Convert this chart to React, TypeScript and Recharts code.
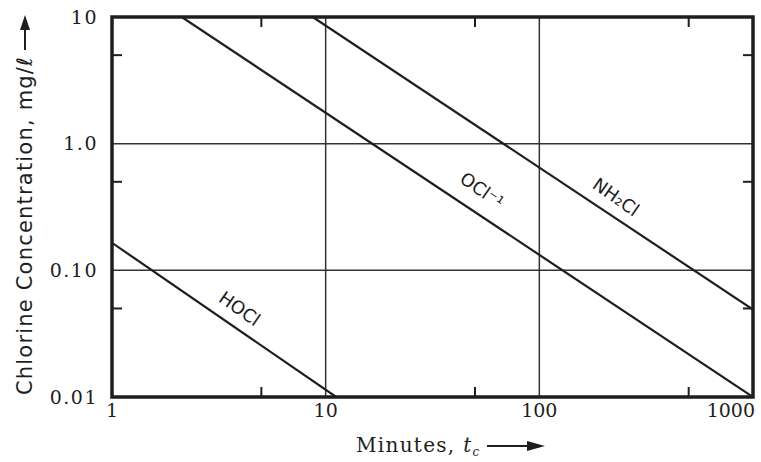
import {
  LineChart,
  Line,
  XAxis,
  YAxis,
  CartesianGrid,
  ReferenceArea,
  ReferenceDot,
} from "recharts";

// decade ticks and their printed labels
const xTicks = [1, 10, 100, 1000];
const yTicks = [0.01, 0.1, 1, 10];
const yTickLabels = ["0.01", "0.10", "1.0", "10"];

// short inside ticks at the half-decade marks
const xMinorTicks = [5, 50, 500];
const yMinorTicks = [0.05, 0.5, 5];

// contact time (min) vs chlorine concentration (mg/l)
const hoclData = [
  { t: 1, c: 0.165 },
  { t: 11.2, c: 0.01 },
];
const oclData = [
  { t: 2.12, c: 10 },
  { t: 1000, c: 0.01 },
];
const nh2clData = [
  { t: 8.7, c: 10 },
  { t: 1000, c: 0.049 },
];

const curveLabels = [
  { t: 3.96, c: 0.05, text: "HOCl" },
  { t: 54, c: 0.43, text: "OCl\u207B\u00B9" },
  { t: 229, c: 0.38, text: "NH\u2082Cl" },
];

const W = 761;
const H = 462;
const MARGIN = { top: 17, right: 8, bottom: 0, left: 0 };
const X_TICK_GAP = 7;
const Y_TICK_GAP = 14;
const MINOR_LEN = 10;

const INK = "#1e1e1e";
const SERIF = "'DejaVu Serif', serif";
const SANS = "'DejaVu Sans', 'Liberation Sans', sans-serif";

// decade labels below the plot; half-decade marks drawn as inward ticks on bottom and top edges
const XTick = (props: any) => {
  const { x, y, payload } = props;
  if (xMinorTicks.includes(payload.value)) {
    const bottom = y - X_TICK_GAP;
    const top = MARGIN.top;
    return (
      <g stroke={INK} strokeWidth={2}>
        <line x1={x} x2={x} y1={bottom} y2={bottom - MINOR_LEN} />
        <line x1={x} x2={x} y1={top} y2={top + MINOR_LEN} />
      </g>
    );
  }
  const anchor = payload.value === 1000 ? "end" : "middle";
  const dx = payload.value === 1000 ? 2 : 0;
  return (
    <text x={x + dx} y={y} dy="0.71em" textAnchor={anchor} fontFamily={SERIF} fontSize={19} fill={INK}>
      {payload.value}
    </text>
  );
};

const YTick = (props: any) => {
  const { x, y, payload } = props;
  if (yMinorTicks.includes(payload.value)) {
    const left = x + Y_TICK_GAP;
    const right = W - MARGIN.right;
    return (
      <g stroke={INK} strokeWidth={2}>
        <line x1={left} x2={left + MINOR_LEN} y1={y} y2={y} />
        <line x1={right} x2={right - MINOR_LEN} y1={y} y2={y} />
      </g>
    );
  }
  const i = yTicks.indexOf(payload.value);
  return (
    <text x={x} y={y} dy="0.35em" textAnchor="end" fontFamily={SERIF} fontSize={19} letterSpacing={1.5} fill={INK}>
      {yTickLabels[i]}
    </text>
  );
};

// rotated y title, text ends just below a drawn arrow pointing up
const YTitle = () => {
  const cx = 25;
  const end = 56;
  return (
    <g>
      <text
        x={cx}
        y={end}
        transform={`rotate(-90 ${cx} ${end})`}
        textAnchor="end"
        dominantBaseline="central"
        fontFamily={SANS}
        fontSize={21}
        letterSpacing={1.2}
        fill={INK}
      >
        Chlorine Concentration, mg/ℓ
      </text>
      <line x1={cx} y1={50} x2={cx} y2={28} stroke={INK} strokeWidth={2} />
      <polygon points={`${cx - 5},${30} ${cx + 5},${30} ${cx},${15}`} fill={INK} />
    </g>
  );
};

const XTitle = () => {
  const base = 452;
  return (
    <g>
      <text x={356} y={base} fontFamily={SERIF} fontSize={20} letterSpacing={1.3} fill={INK}>
        Minutes, <tspan fontStyle="italic">t</tspan>
        <tspan fontSize={12} dy={4} fontStyle="italic">c</tspan>
      </text>
      <line x1={487} y1={446} x2={530} y2={446} stroke={INK} strokeWidth={2} />
      <polygon points={`${527},${441} ${527},${451} ${545},${446}`} fill={INK} />
    </g>
  );
};

const CurveLabel = (props: any) => {
  const { viewBox, text } = props;
  const cx = viewBox.x + (viewBox.width || 0) / 2;
  const cy = viewBox.y + (viewBox.height || 0) / 2;
  return (
    <text
      x={cx}
      y={cy}
      transform={`rotate(35 ${cx} ${cy})`}
      textAnchor="middle"
      dominantBaseline="central"
      fontFamily={SANS}
      fontSize={18}
      fill={INK}
    >
      {text}
    </text>
  );
};

export default function App() {
  return (
    <div style={{ position: "absolute", left: 0, top: 0, background: "#fff" }}>
      <LineChart width={W} height={H} margin={MARGIN}>
        <CartesianGrid stroke="#333" strokeWidth={1.5} verticalValues={xTicks} horizontalValues={yTicks} />
        <XAxis
          dataKey="t"
          type="number"
          scale="log"
          domain={[1, 1000]}
          ticks={[...xTicks, ...xMinorTicks]}
          allowDataOverflow
          interval={0}
          tick={<XTick />}
          tickLine={false}
          axisLine={false}
          tickSize={0}
          tickMargin={X_TICK_GAP}
          height={65}
          label={<XTitle />}
        />
        <YAxis
          dataKey="c"
          type="number"
          scale="log"
          domain={[0.01, 10]}
          ticks={[...yTicks, ...yMinorTicks]}
          allowDataOverflow
          interval={0}
          tick={<YTick />}
          tickLine={false}
          axisLine={false}
          tickSize={0}
          tickMargin={Y_TICK_GAP}
          width={112}
          label={<YTitle />}
        />
        <Line data={hoclData} dataKey="c" stroke={INK} strokeWidth={2.2} dot={false} isAnimationActive={false} />
        <Line data={oclData} dataKey="c" stroke={INK} strokeWidth={2.2} dot={false} isAnimationActive={false} />
        <Line data={nh2clData} dataKey="c" stroke={INK} strokeWidth={2.2} dot={false} isAnimationActive={false} />
        {curveLabels.map((l) => (
          <ReferenceDot key={l.text} x={l.t} y={l.c} r={1} fill="none" stroke="none" label={<CurveLabel text={l.text} />} />
        ))}
        <ReferenceArea x1={1} x2={1000} y1={0.01} y2={10} fill="none" stroke={INK} strokeWidth={3.5} fillOpacity={0} />
      </LineChart>
    </div>
  );
}
